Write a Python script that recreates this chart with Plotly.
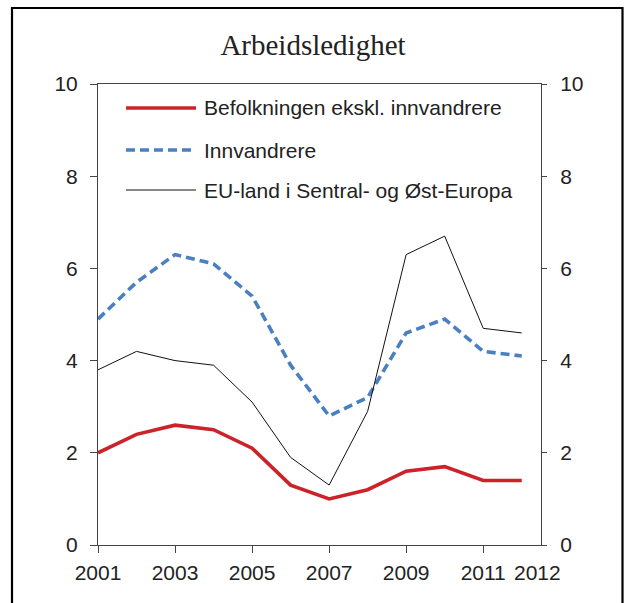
import plotly.graph_objects as go

years = list(range(2001, 2013))
befolkning = [2.0, 2.4, 2.6, 2.5, 2.1, 1.3, 1.0, 1.2, 1.6, 1.7, 1.4, 1.4]
innvandrere = [4.9, 5.7, 6.3, 6.1, 5.4, 3.9, 2.8, 3.2, 4.6, 4.9, 4.2, 4.1]
eu_land = [3.8, 4.2, 4.0, 3.9, 3.1, 1.9, 1.3, 2.9, 6.3, 6.7, 4.7, 4.6]
series_names = ["Befolkningen ekskl. innvandrere", "Innvandrere", "EU-land i Sentral- og Øst-Europa"]
x_tickvals = [2001, 2003, 2005, 2007, 2009, 2011]
y_tickvals = [0, 2, 4, 6, 8, 10]

RED = "#cc2229"
BLUE = "#4a7fc1"
BLACK = "#111111"
AX = "#444444"
TXT = "#222222"
FONT = "Liberation Sans, Arial, sans-serif"

styles = [
    dict(color=RED, width=3.6),
    dict(color=BLUE, width=3.6, dash="9px,5px"),
    dict(color=BLACK, width=1),
]

fig = go.Figure()
for vals, name, st in zip([befolkning, innvandrere, eu_land], series_names, styles):
    fig.add_trace(go.Scatter(x=years, y=vals, mode="lines", name=name, line=st,
                             showlegend=False, hoverinfo="skip"))

W, H = 626, 603
L, R, T, B = 98, 541, 84, 545
pw, ph = R - L, B - T

def px(page_x):
    return (page_x - L) / pw

def py(page_y):
    return (B - page_y) / ph

shapes = []
annotations = []
# manual legend
leg_y = [108, 150, 190]
for yy, name, st in zip(leg_y, series_names, styles):
    shapes.append(dict(type="line", xref="paper", yref="paper",
                       x0=px(126), x1=px(196), y0=py(yy), y1=py(yy),
                       line=st))
    annotations.append(dict(text=name, xref="paper", yref="paper",
                            x=px(202), y=py(yy), xanchor="left", yanchor="middle",
                            showarrow=False, font=dict(family=FONT, size=21, color=TXT)))

# outer frame
shapes.append(dict(type="rect", xref="paper", yref="paper",
                   x0=px(12), x1=px(622.5), y0=py(640), y1=py(8),
                   line=dict(color="black", width=2.2), layer="below"))

# 2012 label at the right end of the axis
annotations.append(dict(text="2012", xref="x", yref="paper", x=2012.4, y=0,
                        xanchor="center", yanchor="top", yshift=-14, showarrow=False,
                        font=dict(family=FONT, size=21, color=TXT)))

fig.update_layout(
    width=W, height=H,
    margin=dict(l=L, r=W - R, t=T, b=H - B),
    paper_bgcolor="white", plot_bgcolor="white",
    title=dict(text="Arbeidsledighet", x=313 / W, xanchor="center",
               y=1 - 45 / H, yanchor="middle",
               font=dict(family="Liberation Serif, Times New Roman, serif", size=29, color=TXT)),
    shapes=shapes,
    annotations=annotations,
    showlegend=False,
    hovermode=False,
    xaxis=dict(range=[2001, 2012.5], tickvals=x_tickvals, ticks="outside", ticklen=7,
               tickcolor=AX, showline=True, linecolor=AX, linewidth=1, mirror=True,
               showgrid=False, zeroline=False, ticklabelstandoff=2,
               tickfont=dict(family=FONT, size=21, color=TXT)),
    yaxis=dict(range=[0, 10], tickvals=y_tickvals, ticks="outside", ticklen=7,
               tickcolor=AX, showline=True, linecolor=AX, linewidth=1,
               showgrid=False, zeroline=False, ticklabelstandoff=8,
               tickfont=dict(family=FONT, size=21, color=TXT)),
    yaxis2=dict(range=[0, 10], tickvals=y_tickvals, ticks="outside", ticklen=5,
                tickcolor=AX, showline=True, linecolor=AX, linewidth=1,
                overlaying="y", side="right", showgrid=False, zeroline=False,
                ticklabelstandoff=9,
                tickfont=dict(family=FONT, size=21, color=TXT)),
)
fig.add_trace(go.Scatter(x=[2001], y=[0], yaxis="y2", mode="markers",
                         marker=dict(opacity=0), hoverinfo="skip", showlegend=False))

fig.write_html("out.html",
               config={"displayModeBar": False, "staticPlot": True},
               post_script="document.body.style.margin='0';"
                           "document.body.style.overflow='hidden';"
                           "document.documentElement.style.overflow='hidden';")
